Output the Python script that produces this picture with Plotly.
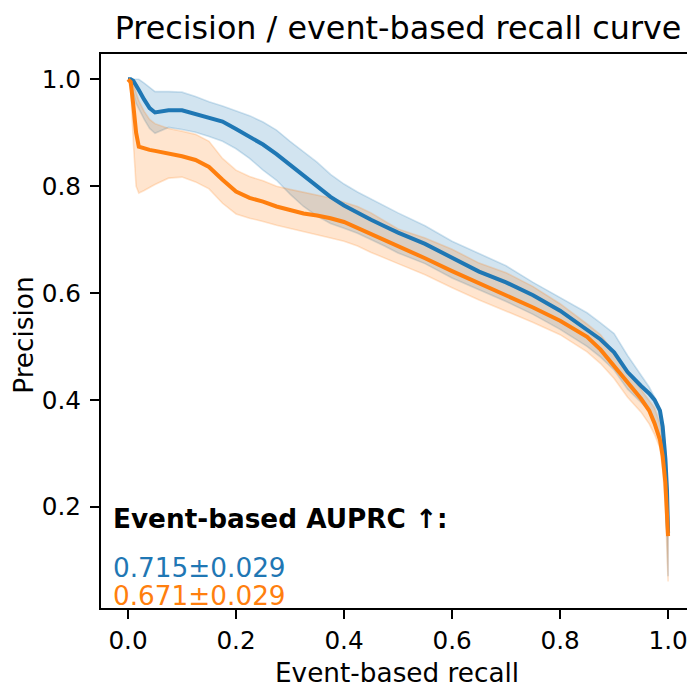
import plotly.graph_objects as go

# Shared recall grid
recall = [0, 0.005, 0.01, 0.015, 0.02, 0.03, 0.04, 0.05, 0.075, 0.1, 0.125, 0.15, 0.175, 0.2,
          0.225, 0.25, 0.275, 0.3, 0.325, 0.35, 0.375, 0.4, 0.425, 0.45, 0.475, 0.5,
          0.55, 0.6, 0.65, 0.7, 0.75, 0.8, 0.85, 0.875, 0.9, 0.925, 0.95,
          0.965, 0.975, 0.985, 0.99, 0.995, 0.998, 1.0]

blue_mean = [1.0, 1.0, 0.997, 0.99, 0.98, 0.962, 0.946, 0.938, 0.942, 0.942, 0.935, 0.929, 0.921, 0.907,
             0.892, 0.878, 0.860, 0.840, 0.818, 0.798, 0.780, 0.764, 0.750, 0.737, 0.725, 0.713,
             0.692, 0.665, 0.640, 0.620, 0.596, 0.567, 0.532, 0.513, 0.489, 0.452, 0.426,
             0.412, 0.400, 0.38, 0.35, 0.29, 0.23, 0.15]
blue_upper = [1.0, 1.0, 1.0, 1.0, 1.0, 0.993, 0.985, 0.977, 0.977, 0.976, 0.968, 0.958, 0.950, 0.941,
              0.932, 0.920, 0.905, 0.884, 0.864, 0.845, 0.822, 0.804, 0.789, 0.776, 0.762, 0.750,
              0.726, 0.697, 0.674, 0.651, 0.620, 0.592, 0.563, 0.544, 0.524, 0.483, 0.445,
              0.424, 0.405, 0.381, 0.355, 0.315, 0.26, 0.2]
blue_lower = [1.0, 0.995, 0.975, 0.955, 0.945, 0.925, 0.908, 0.899, 0.910, 0.906, 0.901, 0.893, 0.884, 0.870,
              0.852, 0.830, 0.811, 0.785, 0.762, 0.744, 0.730, 0.721, 0.712, 0.700, 0.688, 0.675,
              0.655, 0.628, 0.606, 0.584, 0.560, 0.532, 0.500, 0.480, 0.456, 0.420, 0.395,
              0.38, 0.36, 0.33, 0.30, 0.24, 0.15, 0.07]

orange_mean = [1.0, 0.995, 0.95, 0.90, 0.874, 0.870, 0.868, 0.866, 0.861, 0.856, 0.849, 0.836, 0.812, 0.790,
               0.778, 0.771, 0.762, 0.755, 0.749, 0.745, 0.740, 0.733, 0.722, 0.710, 0.699, 0.688,
               0.665, 0.641, 0.618, 0.597, 0.573, 0.548, 0.518, 0.494, 0.463, 0.432, 0.402,
               0.38, 0.356, 0.325, 0.295, 0.245, 0.2, 0.145]
orange_upper = [1.0, 1.0, 0.99, 0.975, 0.96, 0.94, 0.925, 0.917, 0.908, 0.903, 0.897, 0.884, 0.852, 0.830,
                0.818, 0.810, 0.800, 0.794, 0.789, 0.784, 0.778, 0.770, 0.762, 0.750, 0.735, 0.720,
                0.703, 0.682, 0.656, 0.638, 0.612, 0.58, 0.542, 0.522, 0.488, 0.454, 0.42,
                0.40, 0.385, 0.355, 0.325, 0.275, 0.23, 0.2]
orange_lower = [1.0, 0.98, 0.88, 0.80, 0.787, 0.792, 0.797, 0.803, 0.815, 0.817, 0.808, 0.795, 0.768, 0.748,
                0.740, 0.734, 0.727, 0.720, 0.714, 0.709, 0.703, 0.697, 0.688, 0.676, 0.665, 0.655,
                0.634, 0.610, 0.587, 0.566, 0.545, 0.522, 0.490, 0.468, 0.44, 0.405, 0.377,
                0.355, 0.335, 0.31, 0.27, 0.2, 0.12, 0.06]

auprc_labels = ["0.715±0.029", "0.671±0.029"]
tick_vals_x = [0.0, 0.2, 0.4, 0.6, 0.8, 1.0]
tick_vals_y = [0.2, 0.4, 0.6, 0.8, 1.0]

BLUE = "#1f77b4"
ORANGE = "#ff7f0e"
FONT = "DejaVu Sans"

# The page body adds an 8px offset; the figure is sized/placed so that
# reference pixel (X, Y) lands at figure pixel (X - 8, Y - 8).
OFF = 8
W, H = 695 - OFF, 689 - OFF
L = 101 - OFF
T = 54 - OFF
B = H - (608 - OFF)
R = W - (694 - OFF)
PH = H - T - B
PW = W - L - R


def py(ref_y):
    return (H - B - (ref_y - OFF)) / PH


def px(ref_x):
    return ((ref_x - OFF) - L) / PW


fig = go.Figure()

for up, lo, rgb in [(blue_upper, blue_lower, "31,119,180"), (orange_upper, orange_lower, "255,127,14")]:
    fig.add_trace(go.Scatter(
        x=recall + recall[::-1], y=up + lo[::-1], mode="lines", fill="toself",
        fillcolor=f"rgba({rgb},0.2)", line=dict(color=f"rgba({rgb},0.2)", width=1.6),
        hoverinfo="skip", showlegend=False))

fig.add_trace(go.Scatter(x=recall, y=blue_mean, mode="lines",
                         line=dict(color=BLUE, width=4), showlegend=False))
fig.add_trace(go.Scatter(x=recall, y=orange_mean, mode="lines",
                         line=dict(color=ORANGE, width=4), showlegend=False))

axis_common = dict(showline=True, linecolor="black", linewidth=2, mirror=True,
                   ticks="outside", ticklen=9, tickwidth=2, tickcolor="black",
                   showgrid=False, zeroline=False,
                   tickfont=dict(family=FONT, size=24.7, color="black"))

fig.update_xaxes(range=[-0.05, 1.0443], tickvals=tick_vals_x, ticklabelstandoff=0,
                 ticktext=[f"{v:.1f}" for v in tick_vals_x], **axis_common)
fig.update_yaxes(range=[0.0104, 1.0474], tickvals=tick_vals_y, ticklabelstandoff=4,
                 ticktext=[f"{v:.1f}" for v in tick_vals_y], **axis_common)

TXT = 26.3
annotations = [
    dict(text="Event-based recall", x=px(398), y=py(673), xref="paper", yref="paper",
         xanchor="center", yanchor="middle", showarrow=False,
         font=dict(family=FONT, size=TXT, color="black")),
    dict(text="Precision", x=px(23.5), y=py(335), xref="paper", yref="paper",
         xanchor="center", yanchor="middle", showarrow=False, textangle=-90, borderpad=0,
         font=dict(family=FONT, size=TXT, color="black")),
    dict(text="<b>Event-based AUPRC ↑:</b>", x=px(111), y=py(519), xref="paper", yref="paper",
         xanchor="left", yanchor="middle", showarrow=False,
         font=dict(family=FONT, size=TXT, color="black")),
    dict(text=auprc_labels[0], x=px(111), y=py(568), xref="paper", yref="paper",
         xanchor="left", yanchor="middle", showarrow=False,
         font=dict(family=FONT, size=TXT, color=BLUE)),
    dict(text=auprc_labels[1], x=px(111), y=py(595.5), xref="paper", yref="paper",
         xanchor="left", yanchor="middle", showarrow=False,
         font=dict(family=FONT, size=TXT, color=ORANGE)),
]

fig.update_layout(
    width=W, height=H,
    margin=dict(l=L, r=R, t=T, b=B),
    paper_bgcolor="white", plot_bgcolor="white",
    title=dict(text="Precision / event-based recall curve", x=(398 - OFF) / W, xanchor="center",
               y=1 - (28.3 - OFF) / H, yanchor="middle", yref="container",
               font=dict(family=FONT, size=31.8, color="black")),
    annotations=annotations,
    showlegend=False,
)

fig.write_html("out.html")
